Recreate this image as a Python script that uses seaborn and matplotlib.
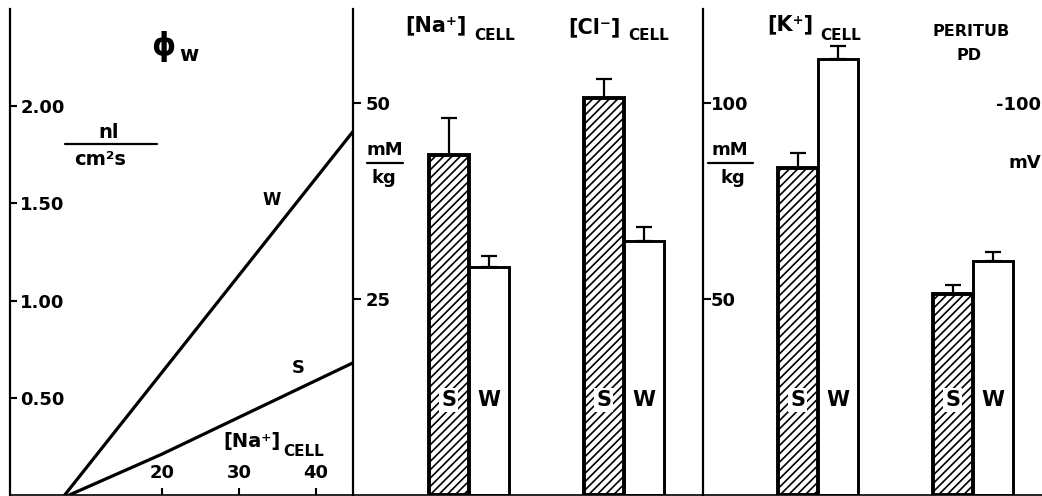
import numpy as np
import pandas as pd
import matplotlib
matplotlib.use("Agg")
import matplotlib.pyplot as plt
from matplotlib.lines import Line2D
import seaborn as sns

# ---------------- data ----------------
# Panel 1: water flux (nl/cm2 s) vs [Na+]cell
na_cell_w = [7.4, 44.8]
phi_w = [0.0, 1.87]
na_cell_s = [8.0, 20.0, 44.8]
phi_s = [0.0, 0.21, 0.68]

# Panel 2: [Na+]cell and [Cl-]cell (mM/kg)
ions_a = ["Na", "Cl"]
groups = ["S", "W"]
na_cl_s = [43.4, 50.6]
na_cl_w = [29.1, 32.4]
na_cl_s_err = [4.7, 2.5]
na_cl_w_err = [1.4, 1.8]

# Panel 3: [K+]cell (mM/kg) and peritubular PD (-mV)
cats_b = ["K", "PD"]
k_pd_s = [83.4, 51.3]
k_pd_w = [111.2, 59.7]
k_pd_s_err = [3.8, 2.3]
k_pd_w_err = [3.3, 2.3]

# ---------------- style ----------------
sns.set_style("ticks")
plt.rcParams["font.family"] = ["DejaVu Sans"]
plt.rcParams["font.weight"] = "bold"
plt.rcParams["hatch.linewidth"] = 1.2
plt.rcParams["hatch.color"] = "black"
plt.rcParams["text.color"] = "black"
plt.rcParams["xtick.color"] = "black"
plt.rcParams["ytick.color"] = "black"
plt.rcParams["xtick.labelcolor"] = "black"
plt.rcParams["ytick.labelcolor"] = "black"

W, H = 1042, 496
fig = plt.figure(figsize=(W / 100, H / 100), dpi=100)
fig.patch.set_facecolor("white")

bot = 1 / H
top = 9 / H
hgt = 1 - bot - top
ax1 = fig.add_axes([10 / W, bot, (353 - 10) / W, hgt])
ax2 = fig.add_axes([353 / W, bot, 350 / W, hgt])
ax3 = fig.add_axes([703 / W, bot, 339 / W, hgt])

for ax in (ax1, ax2, ax3):
    ax.set_facecolor("none")
    for s in ("top", "right"):
        ax.spines[s].set_visible(False)
    ax.spines["left"].set_linewidth(1.6)
    ax.spines["bottom"].set_linewidth(1.2)
    for s in ("left", "bottom"):
        ax.spines[s].set_color("black")


def ftext(x, y, s, **kw):
    kw.setdefault("ha", "center")
    kw.setdefault("va", "center")
    kw.setdefault("color", "black")
    kw.setdefault("fontweight", "bold")
    fig.text(x / W, 1 - y / H, s, **kw)


def fline(x1, x2, y, lw=1.6):
    fig.add_artist(Line2D([x1 / W, x2 / W], [1 - y / H, 1 - y / H],
                          transform=fig.transFigure, color="black", lw=lw))


# ---------------- panel 1 ----------------
sns.lineplot(x=na_cell_w, y=phi_w, ax=ax1, color="black", lw=2.3, sort=False)
sns.lineplot(x=na_cell_s, y=phi_s, ax=ax1, color="black", lw=2.3, sort=False)
ax1.set_xlim(0.3, 44.8)
ax1.set_ylim(0, 2.5)
ax1.set_yticks([0.5, 1.0, 1.5, 2.0])
ax1.set_yticklabels(["0.50", "1.00", "1.50", "2.00"])
ax1.set_xticks([20, 30, 40])
ax1.set_xticklabels(["20", "30", "40"])
ax1.tick_params(axis="y", direction="in", left=True, length=5, width=1.5,
                pad=-7.5, labelsize=13, colors="black")
ax1.tick_params(axis="x", direction="in", bottom=True, length=5, width=1.5,
                pad=-9.5, labelsize=13, colors="black")
for lab in ax1.get_yticklabels():
    lab.set_ha("left")
    lab.set_fontweight("bold")
for lab in ax1.get_xticklabels():
    lab.set_va("bottom")
    lab.set_fontweight("bold")
ax1.set_xlabel("")
ax1.set_ylabel("")

ftext(163, 47, "ϕ", fontsize=22)
ftext(189, 55, "w", fontsize=15)
ftext(109, 133, "nl", fontsize=14)
fline(65, 157, 144)
ftext(100, 160, "cm²s", fontsize=14)
ftext(272, 200, "W", fontsize=12)
ftext(298, 368, "S", fontsize=13)
ftext(252, 442, "[Na⁺]", fontsize=14)
ftext(304, 452, "CELL", fontsize=11)


# ---------------- bar panels ----------------
def bar_panel(ax, cats, s_vals, w_vals, s_err, w_err, ylim, yticks, pad):
    df = pd.DataFrame({
        "cat": cats + cats,
        "grp": ["S"] * len(cats) + ["W"] * len(cats),
        "val": list(s_vals) + list(w_vals),
    })
    sns.barplot(data=df, x="cat", y="val", hue="grp", order=cats,
                hue_order=groups, palette={"S": "white", "W": "white"},
                width=0.52, errorbar=None, legend=False, ax=ax,
                edgecolor="black", linewidth=2.0, saturation=1)
    errs = {"S": s_err, "W": w_err}
    vals = {"S": s_vals, "W": w_vals}
    for grp, cont in zip(groups, ax.containers):
        xs = []
        for p in cont.patches:
            xs.append(p.get_x() + p.get_width() / 2)
            if grp == "S":
                p.set_hatch("////")
                p.set_linewidth(2.8)
            else:
                p.set_linewidth(2.1)
        ax.errorbar(xs, vals[grp], yerr=[np.zeros(len(xs)), errs[grp]],
                    fmt="none", ecolor="black", elinewidth=1.6, capsize=6,
                    capthick=1.6, zorder=1)
        for x in xs:
            t = ax.text(x, 0.195, grp, transform=ax.get_xaxis_transform(),
                        ha="center", va="center", fontsize=15,
                        fontweight="bold", color="black", zorder=5)
            if grp == "S":
                t.set_bbox(dict(facecolor="white", edgecolor="none", pad=1.5))
    ax.set_ylim(*ylim)
    ax.set_yticks(yticks)
    ax.set_yticklabels([str(v) for v in yticks])
    ax.tick_params(axis="y", direction="in", left=True, length=6, width=1.5,
                   pad=pad, labelsize=13, colors="black")
    for lab in ax.get_yticklabels():
        lab.set_ha("left")
        lab.set_fontweight("bold")
    ax.set_xticks([])
    ax.set_xlabel("")
    ax.set_ylabel("")


bar_panel(ax2, ions_a, na_cl_s, na_cl_w, na_cl_s_err, na_cl_w_err,
          (0, 62), [25, 50], -9)
ax2.set_xlim(-0.748, 1.51)

bar_panel(ax3, cats_b, k_pd_s, k_pd_w, k_pd_s_err, k_pd_w_err,
          (0, 124), [50, 100], -5.5)
ax3.set_xlim(-0.742, 1.445)

# panel 2 labels
ftext(436, 25, "[Na⁺]", fontsize=15)
ftext(495, 36, "CELL", fontsize=11)
ftext(594, 27, "[Cl⁻]", fontsize=15)
ftext(649, 36, "CELL", fontsize=11)
ftext(385, 150, "mM", fontsize=13)
fline(367, 403, 163)
ftext(384, 178, "kg", fontsize=13)

# panel 3 labels
ftext(790, 24, "[K⁺]", fontsize=15)
ftext(841, 36, "CELL", fontsize=11)
ftext(971, 31, "PERITUB", fontsize=11.5)
ftext(969, 55, "PD", fontsize=11.5)
ftext(1041, 105, "-100", fontsize=13, ha="right")
ftext(1041, 163, "mV", fontsize=13, ha="right")
ftext(730, 150, "mM", fontsize=13)
fline(708, 753, 163)
ftext(733, 178, "kg", fontsize=13)

fig.savefig("out.png", dpi=100, facecolor="white")
